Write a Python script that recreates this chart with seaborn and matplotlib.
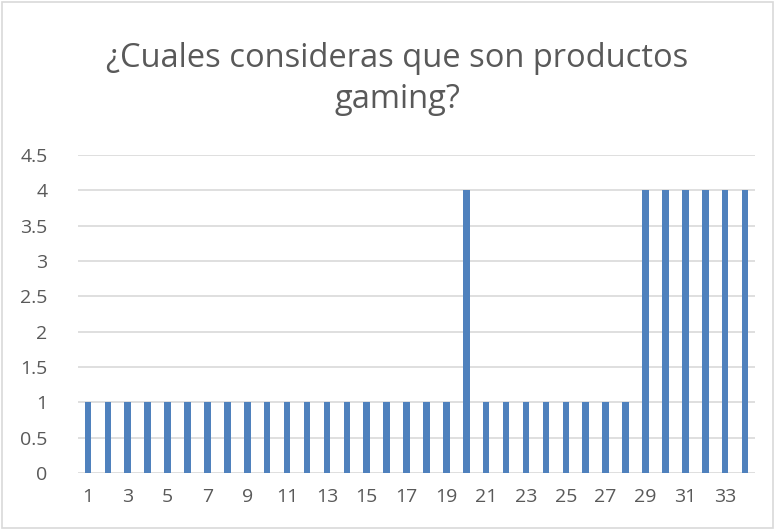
import matplotlib
matplotlib.use("Agg")
import matplotlib.pyplot as plt
import seaborn as sns
import pandas as pd
from matplotlib.patches import Rectangle

categories = [str(i) for i in range(1, 35)]
values = [1]*19 + [4] + [1]*8 + [4]*6
title = "¿Cuales consideras que son productos\ngaming?"
yticks = [0, 0.5, 1, 1.5, 2, 2.5, 3, 3.5, 4, 4.5]
ytick_labels = ["0", "0.5", "1", "1.5", "2", "2.5", "3", "3.5", "4", "4.5"]

sns.set_theme(style="white")
plt.rcParams['font.family'] = ['Open Sans', 'DejaVu Sans']

df = pd.DataFrame({"cat": categories, "val": values})

fig = plt.figure(figsize=(7.75, 5.3), dpi=100)
ax = fig.add_axes([78/775, 1-473/530, (755-78)/775, 318/530])
sns.barplot(data=df, x="cat", y="val", color="#4F81BD", saturation=1, width=0.33,
            linewidth=0, ax=ax, zorder=3)
ax.set_xlim(-0.5, 33.5)
ax.set_ylim(0, 4.5)
ax.set_yticks(yticks)
ax.set_yticklabels(ytick_labels)
ax.set_xticks(range(len(categories)))
ax.set_xticklabels([c if i % 2 == 0 else "" for i, c in enumerate(categories)])
ax.tick_params(axis="both", length=0, labelsize=14, colors="#595959")
ax.tick_params(axis="x", pad=11)
ax.tick_params(axis="y", pad=22)
for lab in ax.get_yticklabels():
    lab.set_horizontalalignment("right")
ax.set_xlabel("")
ax.set_ylabel("")
for s in ax.spines.values():
    s.set_visible(False)
ax.yaxis.grid(True, color="#D9D9D9", linewidth=1.2, zorder=0)
ax.set_axisbelow(True)

fig.text(397/775, 1-79/530, title, ha="center", va="center", fontsize=23.5,
         color="#595959", linespacing=1.3)
fig.patches.append(Rectangle((0.003, 0.003), 0.994, 0.994, transform=fig.transFigure,
                             fill=False, edgecolor="#D9D9D9", linewidth=1.2))
fig.savefig("out.png", dpi=100)
